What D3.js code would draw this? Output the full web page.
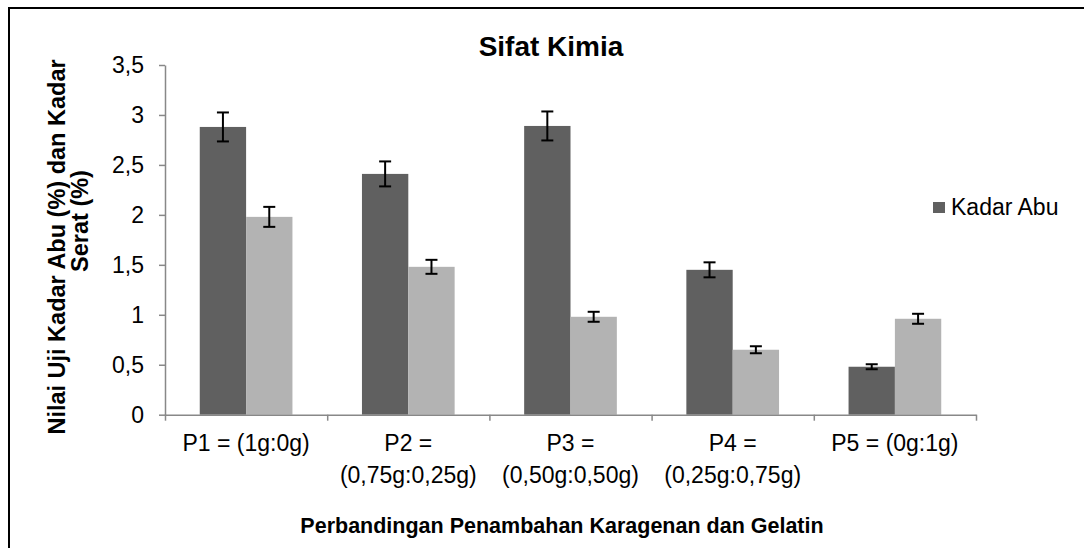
<!DOCTYPE html>
<html>
<head>
<meta charset="utf-8">
<script src="https://cdn.jsdelivr.net/npm/d3@7"></script>
<style>
  body { margin: 0; background: #fff; }
  svg { display: block; font-family: "Liberation Sans", Arial, sans-serif; }
</style>
</head>
<body>
<svg id="chart" width="1084" height="548"></svg>
<script>
// data
const categories = ["P1", "P2", "P3", "P4", "P5"];
const categoryLabels = [
  ["P1 = (1g:0g)"],
  ["P2 =", "(0,75g:0,25g)"],
  ["P3 =", "(0,50g:0,50g)"],
  ["P4 =", "(0,25g:0,75g)"],
  ["P5 = (0g:1g)"]
];
const seriesNames = ["Kadar Abu", "Kadar Serat"];
const kadarAbu = [2.88, 2.41, 2.89, 1.45, 0.48];
const kadarSerat = [1.98, 1.48, 0.98, 0.65, 0.96];
const errorAbu = [0.145, 0.125, 0.145, 0.075, 0.025];
const errorSerat = [0.1, 0.07, 0.05, 0.035, 0.05];
const yTicks = [0, 0.5, 1, 1.5, 2, 2.5, 3, 3.5];
const yTickLabels = ["0", "0,5", "1", "1,5", "2", "2,5", "3", "3,5"];
const legendNames = ["Kadar Abu"];

const colors = { "Kadar Abu": "#606060", "Kadar Serat": "#b3b3b3" };
const axisColor = "#888888";

const svg = d3.select("#chart");

/* marco negro exterior */
svg.append("rect")
  .attr("x", 9).attr("y", 8)
  .attr("width", 1200).attr("height", 700)
  .attr("fill", "none").attr("stroke", "#000").attr("stroke-width", 2);

const plotLeft = 165, plotRight = 976, plotTop = 65, plotBottom = 414.7;

const y = d3.scaleLinear().domain([0, 3.5]).range([plotBottom, plotTop]);
const x0 = d3.scaleBand().domain(categories).range([plotLeft, plotRight]).padding(0);
const x1 = d3.scaleBand().domain(seriesNames).range([0, x0.bandwidth()])
  .paddingInner(0).paddingOuter(0.75);
const xb = d3.scaleLinear().domain([0, categories.length]).range([plotLeft, plotRight]);

const rows = categories.map((c, i) => ({
  cat: c,
  values: [
    { name: seriesNames[0], v: kadarAbu[i], e: errorAbu[i] },
    { name: seriesNames[1], v: kadarSerat[i], e: errorSerat[i] }
  ]
}));

/* barras */
const groups = svg.append("g").selectAll("g").data(rows).enter().append("g")
  .attr("transform", d => `translate(${x0(d.cat)},0)`);

groups.selectAll("rect").data(d => d.values).enter().append("rect")
  .attr("x", d => x1(d.name))
  .attr("y", d => y(d.v))
  .attr("width", x1.bandwidth())
  .attr("height", d => y(0) - y(d.v))
  .attr("fill", d => colors[d.name]);

/* barras de error */
const err = groups.selectAll("g.err").data(d => d.values).enter().append("g")
  .attr("class", "err")
  .attr("stroke", "#000").attr("stroke-width", 2);
const cx = d => x1(d.name) + x1.bandwidth() / 2;
err.append("line")
  .attr("x1", cx).attr("x2", cx)
  .attr("y1", d => y(d.v + d.e)).attr("y2", d => y(d.v - d.e));
err.append("line")
  .attr("x1", d => cx(d) - 6).attr("x2", d => cx(d) + 6)
  .attr("y1", d => y(d.v + d.e)).attr("y2", d => y(d.v + d.e));
err.append("line")
  .attr("x1", d => cx(d) - 6).attr("x2", d => cx(d) + 6)
  .attr("y1", d => y(d.v - d.e)).attr("y2", d => y(d.v - d.e));

/* eje Y */
const yAxis = svg.append("g")
  .attr("transform", `translate(${plotLeft},0)`)
  .call(d3.axisLeft(y).tickValues(yTicks)
    .tickFormat((d, i) => yTickLabels[i])
    .tickSize(6).tickSizeOuter(0).tickPadding(15));
yAxis.select(".domain").attr("stroke", axisColor).attr("stroke-width", 1.5);
yAxis.selectAll(".tick line").attr("stroke", axisColor).attr("stroke-width", 1.5);
yAxis.selectAll("text").attr("font-size", 23).attr("fill", "#000")
  .attr("font-family", "Liberation Sans, Arial, sans-serif");

/* eje X */
const xAxis = svg.append("g")
  .attr("transform", `translate(0,${plotBottom})`)
  .call(d3.axisBottom(xb).ticks(categories.length).tickFormat("")
    .tickSize(6).tickSizeOuter(0));
xAxis.select(".domain").attr("stroke", axisColor).attr("stroke-width", 1.5);
xAxis.selectAll(".tick line").attr("stroke", axisColor).attr("stroke-width", 1.5);

/* etiquetas de categorias */
const catText = svg.append("g").selectAll("text").data(categories).enter().append("text")
  .attr("x", d => x0(d) + x0.bandwidth() / 2)
  .attr("y", 451)
  .attr("text-anchor", "middle")
  .attr("font-size", 23)
  .attr("fill", "#000");
catText.each(function (d, i) {
  const t = d3.select(this);
  categoryLabels[i].forEach((line, k) => {
    t.append("tspan")
      .attr("x", x0(d) + x0.bandwidth() / 2)
      .attr("dy", k === 0 ? 0 : 32)
      .text(line);
  });
});

/* titulo */
svg.append("text")
  .attr("x", 551).attr("y", 56)
  .attr("text-anchor", "middle")
  .attr("font-size", 28).attr("font-weight", "bold")
  .text("Sifat Kimia");

/* titulo eje X */
svg.append("text")
  .attr("x", 562).attr("y", 533)
  .attr("text-anchor", "middle")
  .attr("font-size", 21.5).attr("font-weight", "bold")
  .text("Perbandingan Penambahan Karagenan dan Gelatin");

/* titulo eje Y */
svg.append("text")
  .attr("transform", "translate(65,247) rotate(-90)")
  .attr("text-anchor", "middle")
  .attr("font-size", 23.5).attr("font-weight", "bold")
  .text("Nilai Uji Kadar Abu (%) dan Kadar");
svg.append("text")
  .attr("transform", "translate(88,221) rotate(-90)")
  .attr("text-anchor", "middle")
  .attr("font-size", 23.5).attr("font-weight", "bold")
  .text("Serat (%)");

/* leyenda */
const legend = svg.append("g").selectAll("g").data(legendNames).enter().append("g")
  .attr("transform", (d, i) => `translate(933,${202 + i * 30})`);
legend.append("rect")
  .attr("width", 12).attr("height", 11)
  .attr("fill", d => colors[d]);
legend.append("text")
  .attr("x", 18).attr("y", 13)
  .attr("font-size", 23)
  .text(d => d);
</script>
</body>
</html>
